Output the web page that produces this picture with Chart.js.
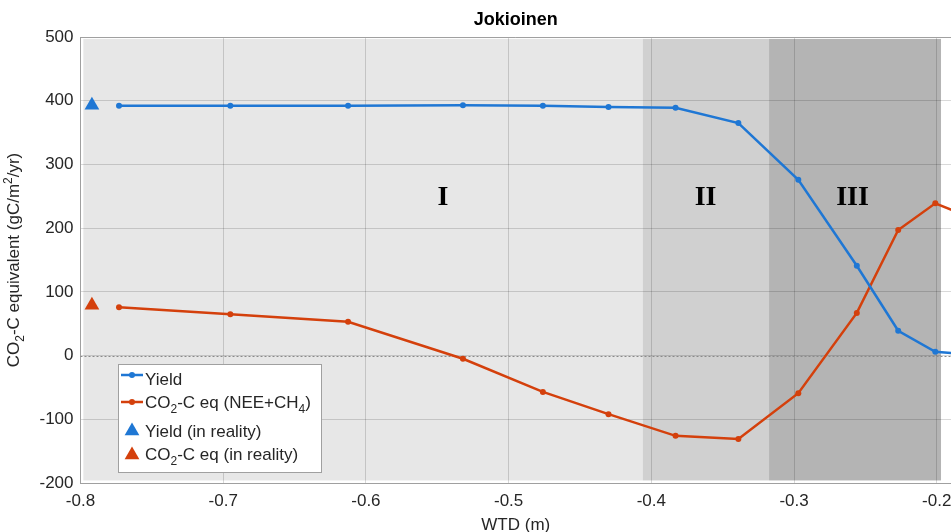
<!DOCTYPE html>
<html><head><meta charset="utf-8">
<script src="https://cdn.jsdelivr.net/npm/chart.js@4"></script>
<style>html,body{margin:0;padding:0;background:#fff;overflow:hidden}canvas{display:block}</style>
</head><body>
<canvas id="c" width="951" height="532"></canvas>
<script>
// ---- data ----
const chartTitle = 'Jokioinen';
const xAxisLabel = 'WTD (m)';
const yAxisLabel = 'CO_2-C equivalent (gC/m^2/yr)';
const wtd = [-0.773, -0.695, -0.6125, -0.532, -0.476, -0.430, -0.383, -0.339, -0.297, -0.256, -0.227, -0.201, -0.17];
const yieldVals = [392, 392, 392, 393, 392, 390, 389, 365, 276, 141, 39, 6, 1];
const co2Vals = [76, 65, 53, -5, -57, -92, -126, -131, -59, 67, 197, 239, 211];
const realityWtd = [-0.792];
const yieldReality = [393];
const co2Reality = [79];
const xTicks = [-0.8, -0.7, -0.6, -0.5, -0.4, -0.3, -0.2];
const yTicks = [-200, -100, 0, 100, 200, 300, 400, 500];
const regionNames = ['I', 'II', 'III'];
const regionStart = [-0.798, -0.406, -0.3175];
const regionEnd = [-0.406, -0.3175, -0.197];
const regionLabelX = [-0.546, -0.362, -0.259];
const regionLabelY = [247, 247, 247];
const seriesNames = ['Yield', 'CO_2-C eq (NEE+CH_4)', 'Yield (in reality)', 'CO_2-C eq (in reality)'];

// ---- styles ----
const BLUE = '#1f77d4', RED = '#d4400c';
const regionFills = ['#e7e7e7', '#d0d0d0', '#b4b4b4'];
const FONT = '"Liberation Sans", Arial, sans-serif';
const TXT = '#262626';

function richSegments(s) {
  const out = []; let buf = '';
  for (let i = 0; i < s.length; i++) {
    const ch = s[i];
    if ((ch === '_' || ch === '^') && i + 1 < s.length) {
      if (buf) { out.push({ t: buf, k: 0 }); buf = ''; }
      out.push({ t: s[i + 1], k: ch === '_' ? 1 : -1 }); i++;
    } else buf += ch;
  }
  if (buf) out.push({ t: buf, k: 0 });
  return out;
}
function drawRich(ctx, s, x, y, size, align) {
  const segs = richSegments(s); const small = Math.round(size * 0.68);
  let w = 0;
  segs.forEach(g => { ctx.font = (g.k ? small : size) + 'px ' + FONT; g.w = ctx.measureText(g.t).width; w += g.w; });
  let cx = align === 'center' ? x - w / 2 : x;
  ctx.textAlign = 'left'; ctx.textBaseline = 'alphabetic';
  segs.forEach(g => {
    ctx.font = (g.k ? small : size) + 'px ' + FONT;
    const dy = g.k === 1 ? size * 0.3 : (g.k === -1 ? -size * 0.42 : 0);
    ctx.fillText(g.t, cx, y + dy); cx += g.w;
  });
}

const decor = {
  id: 'decor',
  beforeDraw(chart) {
    const { ctx, scales: { x, y } } = chart;
    ctx.save();
    for (let i = 0; i < regionNames.length; i++) {
      const x0 = x.getPixelForValue(regionStart[i]), x1 = x.getPixelForValue(regionEnd[i]);
      const y0 = y.getPixelForValue(497), y1 = y.getPixelForValue(-196);
      ctx.fillStyle = regionFills[i];
      ctx.fillRect(x0, y0, x1 - x0, y1 - y0);
    }
    ctx.restore();
  },
  beforeDatasetsDraw(chart) {
    const { ctx, chartArea: a, scales: { x, y } } = chart;
    ctx.save();
    const yz = Math.round(y.getPixelForValue(0)) + 0.5;
    ctx.strokeStyle = '#8a8a8a'; ctx.lineWidth = 1; ctx.setLineDash([2, 2]);
    ctx.beginPath(); ctx.moveTo(a.left, yz); ctx.lineTo(a.right, yz); ctx.stroke();
    ctx.setLineDash([]);
    ctx.fillStyle = '#000'; ctx.font = 'bold 28px "Liberation Serif", "Times New Roman", serif';
    ctx.textAlign = 'center'; ctx.textBaseline = 'middle';
    for (let i = 0; i < regionNames.length; i++) {
      ctx.fillText(regionNames[i], x.getPixelForValue(regionLabelX[i]), y.getPixelForValue(regionLabelY[i]));
    }
    ctx.strokeStyle = '#a0a0a0';
    ctx.beginPath(); ctx.moveTo(a.left, a.top + 0.5); ctx.lineTo(a.right, a.top + 0.5); ctx.stroke();
    ctx.restore();
  },
  afterDraw(chart) {
    const { ctx, chartArea: a, data } = chart;
    ctx.save();
    ctx.fillStyle = '#000'; ctx.font = 'bold 18px ' + FONT; ctx.textAlign = 'center'; ctx.textBaseline = 'alphabetic';
    ctx.fillText(chartTitle, (a.left + a.right) / 2, 25);
    ctx.fillStyle = TXT; ctx.font = '17px ' + FONT;
    ctx.fillText(xAxisLabel, (a.left + a.right) / 2, 530);
    ctx.save();
    ctx.translate(19, (a.top + a.bottom) / 2); ctx.rotate(-Math.PI / 2);
    ctx.fillStyle = TXT;
    drawRich(ctx, yAxisLabel, 0, 0, 17, 'center');
    ctx.restore();
    const bx = 118.5, by = 364.5, bw = 203, bh = 108;
    ctx.fillStyle = '#fff'; ctx.fillRect(bx, by, bw, bh);
    ctx.strokeStyle = '#a0a0a0'; ctx.lineWidth = 1; ctx.strokeRect(bx, by, bw, bh);
    const markY = [375, 402, 430, 454];
    const baseY = [385, 408, 437, 460];
    data.datasets.forEach((ds, i) => {
      const c = ds.borderColor;
      ctx.fillStyle = c; ctx.strokeStyle = c;
      if (ds.showLine !== false) {
        ctx.lineWidth = 2.5;
        ctx.beginPath(); ctx.moveTo(121, markY[i]); ctx.lineTo(143, markY[i]); ctx.stroke();
        ctx.beginPath(); ctx.arc(132, markY[i], 3, 0, Math.PI * 2); ctx.fill();
      } else {
        const r = 8.5, cx = 132, cy = markY[i] + 1;
        ctx.beginPath();
        ctx.moveTo(cx, cy - r);
        ctx.lineTo(cx + r * Math.sin(2 * Math.PI / 3), cy - r * Math.cos(2 * Math.PI / 3));
        ctx.lineTo(cx + r * Math.sin(4 * Math.PI / 3), cy - r * Math.cos(4 * Math.PI / 3));
        ctx.closePath(); ctx.fill();
      }
      ctx.fillStyle = TXT;
      drawRich(ctx, ds.label, 145, baseY[i], 17, 'left');
    });
    ctx.restore();
  }
};

const toXY = (xs, ys) => xs.map((v, i) => ({ x: v, y: ys[i] }));

new Chart(document.getElementById('c'), {
  type: 'scatter',
  data: {
    datasets: [
      { label: seriesNames[0], data: toXY(wtd, yieldVals), showLine: true, borderColor: BLUE, backgroundColor: BLUE, borderWidth: 2.5, pointRadius: 3, pointBorderWidth: 0, tension: 0 },
      { label: seriesNames[1], data: toXY(wtd, co2Vals), showLine: true, borderColor: RED, backgroundColor: RED, borderWidth: 2.5, pointRadius: 3, pointBorderWidth: 0, tension: 0 },
      { label: seriesNames[2], data: toXY(realityWtd, yieldReality), showLine: false, borderColor: BLUE, backgroundColor: BLUE, pointStyle: 'triangle', pointRadius: 8.5, pointBorderWidth: 0 },
      { label: seriesNames[3], data: toXY(realityWtd, co2Reality), showLine: false, borderColor: RED, backgroundColor: RED, pointStyle: 'triangle', pointRadius: 8.5, pointBorderWidth: 0 }
    ]
  },
  options: {
    responsive: false, animation: false, devicePixelRatio: 1,
    layout: { autoPadding: false, padding: { left: 0, right: 0, top: 37, bottom: 0 } },
    plugins: { legend: { display: false }, title: { display: false }, tooltip: { enabled: false } },
    scales: {
      x: {
        type: 'linear', min: -0.8, max: -0.19,
        afterBuildTicks: s => { s.ticks = xTicks.map(v => ({ value: v })); },
        afterFit: s => { s.height = 49; s.paddingLeft = 0; s.paddingRight = 0; },
        ticks: { autoSkip: false, maxRotation: 0, padding: 8, color: TXT, font: { family: FONT, size: 17 }, callback: v => String(v) },
        grid: { color: 'rgba(0,0,0,0.15)', drawTicks: false },
        border: { color: '#a0a0a0' }
      },
      y: {
        type: 'linear', min: -200, max: 500,
        afterBuildTicks: s => { s.ticks = yTicks.map(v => ({ value: v })); },
        afterFit: s => { s.width = 80.5; s.paddingTop = 0; s.paddingBottom = 0; },
        ticks: { autoSkip: false, padding: 7, color: TXT, font: { family: FONT, size: 17 }, callback: v => String(v) },
        grid: { color: 'rgba(0,0,0,0.15)', drawTicks: false },
        border: { color: '#a0a0a0' }
      }
    }
  },
  plugins: [decor]
});
</script>
</body></html>
